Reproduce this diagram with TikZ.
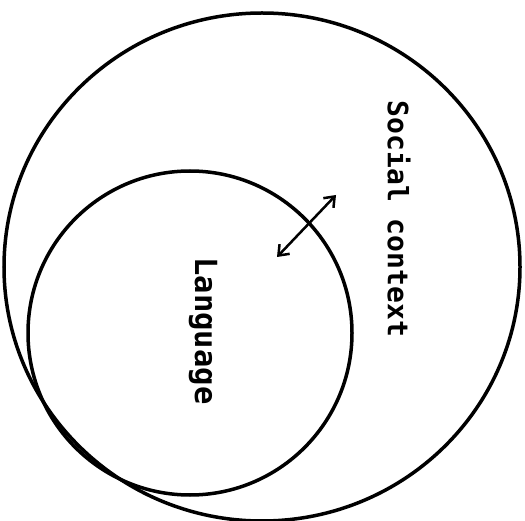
\documentclass[tikz,border=0pt]{standalone}
\usepackage{fontspec}
\setmonofont{DejaVu Sans Mono}
\usetikzlibrary{arrows.meta}

\begin{document}
\begin{tikzpicture}[x=1pt,y=1pt,yscale=-1,xscale=1]
\useasboundingbox (0,0) rectangle (525,521);

%Shape: Ellipse [id:social]
\draw [line width=3.5pt] (262,267) ellipse [x radius=258, y radius=254];
%Shape: Circle [id:language]
\draw [line width=3.5pt] (190,333) circle [radius=162];

%Straight Lines [id:exchange]
\coordinate (arrA) at (277,257);
\coordinate (arrB) at (336,195);
\draw [line width=2.5pt, {Straight Barb[length=9pt,width=14pt]}-{Straight Barb[length=9pt,width=14pt]}] (arrA) -- (arrB);

% Text Node
\draw (399,219) node [rotate=-90, inner sep=0.75pt, font=\ttfamily\bfseries\fontsize{28}{30}\selectfont] (social) {Social context};
% Text Node
\draw (203,331) node [rotate=-90, inner sep=0.75pt, font=\ttfamily\bfseries\fontsize{30.5}{32}\selectfont] (language) {Language};

\end{tikzpicture}
\end{document}
